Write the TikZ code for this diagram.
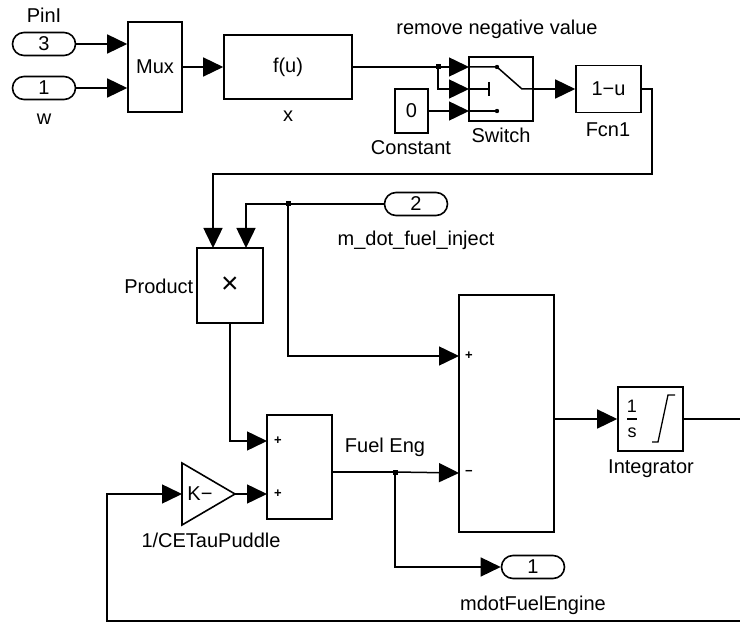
\documentclass[tikz,border=0pt]{standalone}
\usepackage{fontspec}
\setmainfont{Liberation Sans}
\usetikzlibrary{arrows.meta}
\begin{document}
\begin{tikzpicture}[x=1pt,y=-1pt, line width=1.5pt, font=\fontsize{20}{24}\selectfont,
  blk/.style={draw, rectangle, inner sep=0pt, line width=1.6pt},
  port/.style={draw, rounded corners=11.5pt, inner sep=0pt, minimum width=63pt, minimum height=23pt, line width=1.6pt},
  lbl/.style={anchor=base, inner sep=0pt},
  sig/.style={-{Triangle[length=20pt,width=19pt]}},
  jn/.style={fill, rectangle, minimum size=5pt, inner sep=0pt},
  sgn/.style={font=\fontsize{13}{13}\selectfont\bfseries, inner sep=0pt}
]
\useasboundingbox (0,0) rectangle (740,623);

% inports and mux
\node[port] (in3) at (44,44) {3};
\node[lbl] at (44,23) {PinI};
\node[port] (in1) at (44,88) {1};
\node[lbl] at (44,125) {w};
\node[blk, minimum width=54pt, minimum height=90pt] (mux) at (155,67) {Mux};
\draw[sig] (in3.east) -- (mux.west |- in3.east);
\draw[sig] (in1.east) -- (mux.west |- in1.east);

% f(u)
\node[blk, minimum width=128pt, minimum height=64pt] (fu) at (288,67) {f(u)};
\node[lbl] at (288,122) {x};
\draw[sig] (mux.east) -- (fu.west);

% switch
\node[blk, minimum width=64pt, minimum height=64pt] (sw) at (501,89) {};
\coordinate (s1) at (469,67);
\coordinate (s2) at (469,89);
\coordinate (s3) at (469,111);
\node[jn] (j1) at (438,67) {};
\draw (fu.east |- j1) -- (j1.center);
\draw[sig] (j1.center) -- (s1);
\draw[sig] (j1.center) |- (s2);
\draw (s1) -- (497,67) -- (522,89) -- (sw.east);
\fill (497,67) circle (2.2pt);
\draw (s2) -- (489,89);
\draw (489,82) -- (489,96);
\draw (s3) -- (497,111);
\fill (497,111) circle (2.2pt);
\node[lbl] at (497,35) {remove negative value};
\node[lbl] at (501,143) {Switch};

% constant
\node[blk, minimum width=33pt, minimum height=44pt] (const) at (411.5,111) {0};
\draw[sig] (const.east) -- (s3);
\node[lbl] at (411,155) {Constant};

% Fcn1
\node[blk, minimum width=65pt, minimum height=47pt] (fcn) at (608.5,89) {1−u};
\draw[sig] (sw.east) -- (fcn.west);
\node[lbl] at (608,137) {Fcn1};

% product
\node[blk, minimum width=66pt, minimum height=75pt, font=\fontsize{30}{30}\selectfont] (prod) at (230,285.5) {×};
\coordinate (p1) at (213,248);
\coordinate (p2) at (246,248);
\node[lbl, anchor=base east] at (194,294) {Product};
\draw[sig] (fcn.east) -- (652,89) -- (652,174) -- (213,174) -- (p1);

% outport 2
\node[port] (out2) at (416,204) {2};
\node[lbl] at (416,246) {m\_dot\_fuel\_inject};
\node[jn] (j2) at (288,204) {};
\draw[sig] (out2.west) -- (246,204) -- (p2);

% big sum
\node[blk, minimum width=95pt, minimum height=237pt] (sum) at (506.5,413.5) {};
\coordinate (sp) at (459,356);
\coordinate (sm) at (459,473);
\node[sgn] at (469,356) {+};
\node[sgn] at (469,473) {−};
\draw[sig] (j2.center) |- (sp);

% integrator
\node[blk, minimum width=65pt, minimum height=64pt] (int) at (650.5,419) {};
\draw[sig] (sum.east |- int.west) -- (int.west);
\coordinate (rt) at (740,419);
\draw (int.east) -- (rt);
\node[font=\fontsize{18}{18}\selectfont, inner sep=0pt] at (632,406) {1};
\draw[line width=1.2pt] (627,419) -- (637,419);
\node[font=\fontsize{18}{18}\selectfont, inner sep=0pt] at (632,433) {s};
\draw[line width=1.3pt] (652,442) -- (658,442) -- (668,395) -- (675,395);
\node[lbl] at (651,473) {Integrator};

% sum 2
\node[blk, minimum width=65pt, minimum height=104pt] (sum2) at (299.5,467) {};
\coordinate (a1) at (267,441);
\coordinate (a2) at (267,494);
\coordinate (ao) at (332,472);
\node[sgn] at (278,441) {+};
\node[sgn] at (278,494) {+};
\draw[sig] (prod.south) |- (a1);
\node[lbl] at (385,452) {Fuel Eng};

% gain
\coordinate (gi) at (182,494);
\coordinate (go) at (235,494);
\draw[line width=1.6pt] (182,463) -- (go) -- (182,525) -- cycle;
\node[inner sep=0pt] (gain) at (200,494) {K−};
\draw[sig] (go) -- (a2);
\node[lbl] at (211,547) {1/CETauPuddle};
\coordinate (fb) at (740,621);
\draw[sig] (fb) -- (107,621) -- (107,494) -- (gi);

% sum2 output and outport 1
\node[port] (out1) at (533,567) {1};
\node[lbl] at (533,610) {mdotFuelEngine};
\node[jn] (j3) at (395,472) {};
\draw (ao) -- (j3.center);
\draw[sig] (j3.center) -- (sm);
\draw[sig] (j3.center) |- (out1.west);
\end{tikzpicture}
\end{document}
